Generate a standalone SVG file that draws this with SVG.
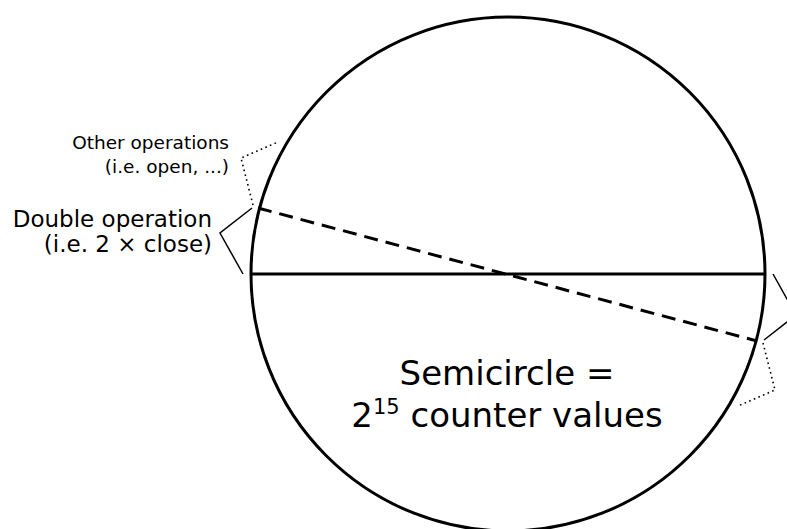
<svg xmlns="http://www.w3.org/2000/svg" width="787" height="529" viewBox="0 0 787 529">
<style>
text{font-family:"DejaVu Sans","Verdana",sans-serif;fill:#000}
.thick{fill:none;stroke:#000;stroke-width:3}
.dash{fill:none;stroke:#000;stroke-width:3;stroke-dasharray:14 8}
.br{fill:none;stroke:#000;stroke-width:1.5}
.dot{fill:none;stroke:#000;stroke-width:1.6;stroke-dasharray:1.6 3.4}
.small{font-size:18.5px}
.mid{font-size:23px}
.big{font-size:34px}
</style>
<rect width="787" height="529" fill="#fff"/>
<g id="circle">
<circle class="thick" cx="508" cy="274" r="257"/>
</g>
<g id="connectors">
<line class="thick" x1="251" y1="274" x2="765" y2="274"/>
<line class="dash" x1="258" y1="208" x2="757" y2="341"/>
<polyline class="br" points="252,208 220,233 243,274"/>
<polyline class="dot" points="253,205 241,158 278,142"/>
<polyline class="br" points="764,340 796,315 773,274"/>
<polyline class="dot" points="763,343 775,390 738,406"/>
</g>
<g id="label-other">
<text class="small" x="229" y="149" text-anchor="end">Other operations</text>
<text class="small" x="229" y="173" text-anchor="end">(i.e. open, ...)</text>
</g>
<g id="label-double">
<text class="mid" x="212" y="227" text-anchor="end">Double operation</text>
<text class="mid" x="212" y="252" text-anchor="end">(i.e. 2 × close)</text>
</g>
<g id="label-semicircle">
<text class="big" x="507" y="385" text-anchor="middle">Semicircle =</text>
<text class="big" x="507" y="427" text-anchor="middle">2<tspan font-size="21px" dy="-13">15</tspan><tspan dy="13"> counter values</tspan></text>
</g>
</svg>
